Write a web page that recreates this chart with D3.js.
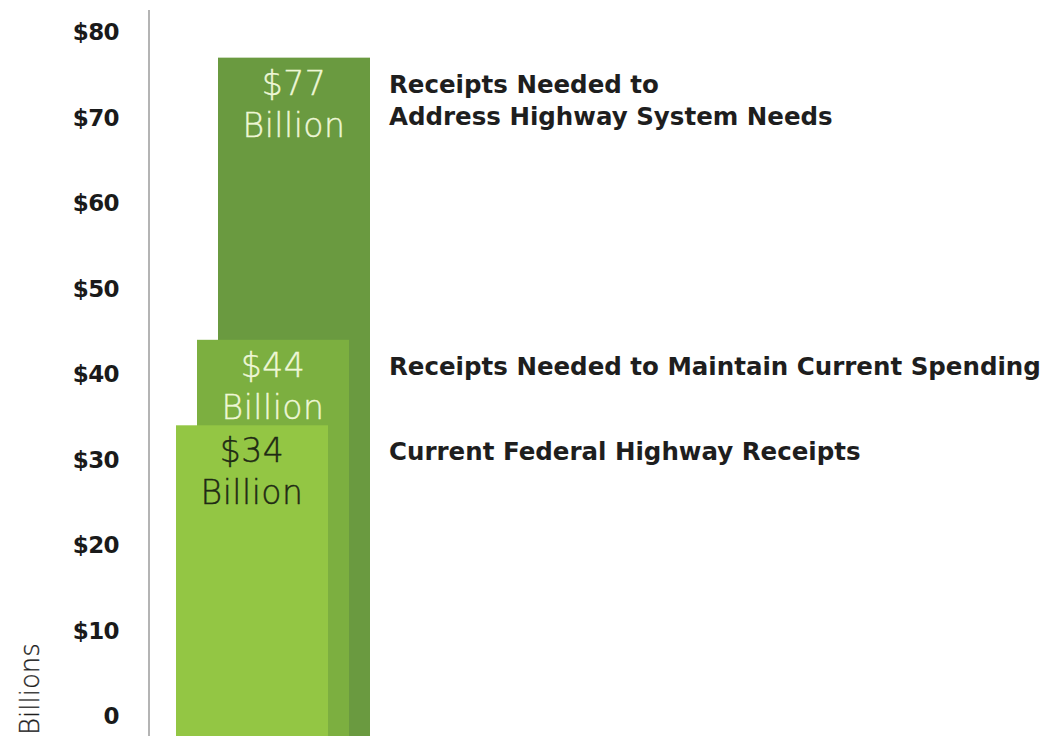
<!DOCTYPE html>
<html>
<head>
<meta charset="utf-8">
<script src="https://cdn.jsdelivr.net/npm/d3@7"></script>
<style>
  html, body { margin: 0; padding: 0; background: #ffffff; }
  svg { display: block; }
</style>
</head>
<body>
<svg id="chart" width="1052" height="736"></svg>
<script>
// Federal highway receipts, in billions of dollars
const categories = [
  ["Current Federal Highway Receipts"],
  ["Receipts Needed to Maintain Current Spending"],
  ["Receipts Needed to", "Address Highway System Needs"]
];
const values = [34, 44, 77];
const valueLabels = ["$34", "$44", "$77"];
const barColors = ["#93c644", "#7caf40", "#6a9a40"];
const valueTextColors = ["#1f2a14", "#eef7d6", "#eef7d6"];
const tickValues = [0, 10, 20, 30, 40, 50, 60, 70, 80];
const tickLabels = ["0", "$10", "$20", "$30", "$40", "$50", "$60", "$70", "$80"];
const axisTitle = "Billions";

const W = 1052, H = 736;
const svg = d3.select("#chart");

const y = d3.scaleLinear().domain([0, 80]).range([716, 32]);
// bars are stacked one behind another, each shifted right
const x = d3.scaleLinear().domain([0, 2]).range([176, 218]);
const barW = 152;

// vertical axis line
svg.append("line")
  .attr("x1", 149).attr("x2", 149)
  .attr("y1", 10).attr("y2", H)
  .attr("stroke", "#b4b4b4").attr("stroke-width", 2);

// tick labels
svg.append("g").selectAll("text")
  .data(tickValues)
  .join("text")
  .attr("x", 119)
  .attr("y", d => y(d))
  .attr("dy", "0.36em")
  .attr("text-anchor", "end")
  .attr("font-family", "'DejaVu Sans', sans-serif")
  .attr("font-weight", 700)
  .attr("font-size", 23)
  .attr("letter-spacing", -0.6)
  .attr("fill", "#1a1a1a")
  .text((d, i) => tickLabels[i]);

// axis title
svg.append("text")
  .attr("transform", `translate(39, ${H - 1}) rotate(-90)`)
  .attr("font-family", "'DejaVu Sans', sans-serif")
  .attr("font-weight", 200)
  .attr("font-size", 26)
  .attr("fill", "#1e1e1e")
  .attr("stroke", "#1e1e1e")
  .attr("stroke-width", 0.3)
  .text(axisTitle);

const order = [2, 1, 0];

// bars, drawn back to front
svg.append("g").selectAll("rect")
  .data(order)
  .join("rect")
  .attr("x", i => x(i))
  .attr("y", i => y(values[i]))
  .attr("width", barW)
  .attr("height", i => H - y(values[i]))
  .attr("fill", i => barColors[i]);

// value labels inside each bar
const vl = svg.append("g").selectAll("text")
  .data(order)
  .join("text")
  .attr("text-anchor", "middle")
  .attr("font-family", "'DejaVu Sans', sans-serif")
  .attr("font-weight", 200)
  .attr("font-size", 33)
  .attr("letter-spacing", 0.5)
  .attr("fill", i => valueTextColors[i])
  .attr("stroke", i => valueTextColors[i])
  .attr("stroke-width", 0.4);
vl.append("tspan")
  .attr("x", i => x(i) + barW / 2)
  .attr("y", i => y(values[i]) + 37)
  .text(i => valueLabels[i]);
vl.append("tspan")
  .attr("x", i => x(i) + barW / 2)
  .attr("y", i => y(values[i]) + 79)
  .text("Billion");

// category labels to the right
const cl = svg.append("g").selectAll("text")
  .data([0, 1, 2])
  .join("text")
  .attr("font-family", "'DejaVu Sans', sans-serif")
  .attr("font-weight", 700)
  .attr("font-size", 24.5)
  .attr("fill", "#1e1e1e");
cl.selectAll("tspan")
  .data(i => categories[i].map((t, k) => ({ t, k, i })))
  .join("tspan")
  .attr("x", 389)
  .attr("y", d => y(values[d.i]) + 35 + d.k * 32)
  .text(d => d.t);
</script>
</body>
</html>
